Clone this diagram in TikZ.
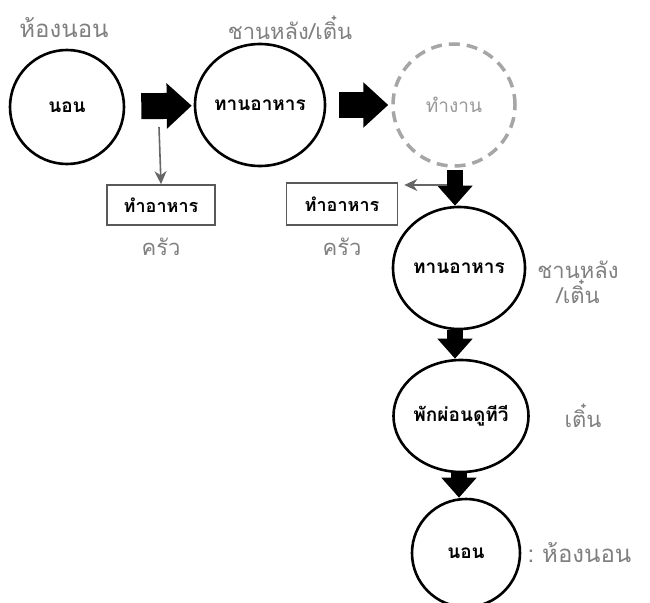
\documentclass[tikz,border=0pt]{standalone}
\usepackage{fontspec}
\newfontfamily\thaifont[Script=Thai]{Loma}
\usetikzlibrary{arrows.meta,calc,shapes.geometric}
\definecolor{lbl}{gray}{0.5}
\definecolor{boxc}{gray}{0.35}
\tikzset{
  act/.style={draw=black, line width=2.6pt, ellipse, inner sep=0pt, font=\thaifont\bfseries\fontsize{19}{21}\selectfont},
  circ/.style={draw=black, line width=2.6pt, circle, inner sep=0pt, font=\thaifont\bfseries\fontsize{19}{21}\selectfont},
  dcirc/.style={draw=gray!70, line width=3.5pt, dash pattern=on 11pt off 7pt, circle, inner sep=0pt, text=gray!80, font=\thaifont\fontsize{19}{21}\selectfont},
  kbox/.style={draw=boxc, line width=1.6pt, rectangle, inner sep=0pt, font=\thaifont\bfseries\fontsize{18}{20}\selectfont},
  place/.style={text=lbl, font=\thaifont\fontsize{22}{22}\selectfont, align=center},
  bigh/.style={line width=26pt, -{Triangle[length=25pt,width=44pt]}},
  bigv/.style={line width=16pt, -{Triangle[length=20pt,width=34pt]}},
  thin/.style={draw=gray!80!black, line width=1.6pt, -{Stealth[length=13pt,width=12pt,inset=4pt]}}
}
\begin{document}
\begin{tikzpicture}[x=1pt,y=-1pt]
\useasboundingbox (0,0) rectangle (650,602);
% places
\node[place, font=\thaifont\fontsize{24}{24}\selectfont] (p1) at (64,28) {ห้องนอน};
\node[place] (p2) at (290,28) {ชานหลัง/เติ๋น};
% activities top row
\node[circ, minimum size=114pt] (n1) at (67,107) {นอน};
\node[act, minimum width=130pt, minimum height=122pt] (n2) at (260,105) {ทานอาหาร};
\node[dcirc, minimum size=122pt] (n3) at (454,105) {ทำงาน};
% kitchen boxes
\node[kbox, minimum width=108pt, minimum height=40pt] (b1) at (161,205) {ทำอาหาร};
\node[place] (k1) at (161,247) {ครัว};
\node[kbox, minimum width=111pt, minimum height=42pt] (b2) at (342,204) {ทำอาหาร};
\node[place] (k2) at (342,247) {ครัว};
% vertical chain
\node[act, minimum width=132pt, minimum height=122pt] (n4) at (459,268) {ทานอาหาร};
\node[place] (p4) at (578,282) {ชานหลัง\\/เติ๋น};
\node[act, minimum width=135pt, minimum height=112pt] (n5) at (461,416) {พักผ่อนดูทีวี};
\node[place] (p5) at (583,416) {เติ๋น};
\node[circ, minimum size=108pt] (n6) at (466,553) {นอน};
\node[place, anchor=west, font=\thaifont\fontsize{24}{24}\selectfont] (p6) at (524,553) {:\hspace{8pt}ห้องนอน};
% big arrows
\draw[bigh, shorten <=16pt, shorten >=2pt] (n1) -- (n2);
\draw[bigh, shorten <=13pt, shorten >=3pt] (n2) -- (n3);
\draw[bigv, shorten <=3pt] (455,167) coordinate (a3) -- (a3 |- n4.north);
\draw[bigv, shorten <=0pt] (455,330) coordinate (a4) -- (a4 |- n5.north);
\draw[bigv, shorten <=0pt] (459,472) coordinate (a5) -- (a5 |- n6.north);
% thin arrows
\coordinate (k) at (159,127);
\coordinate (j) at (447,185);
\draw[thin] (k) -- (b1.north);
\draw[thin, shorten >=6pt] (j) -- (j -| b2.east);
\end{tikzpicture}
\end{document}
